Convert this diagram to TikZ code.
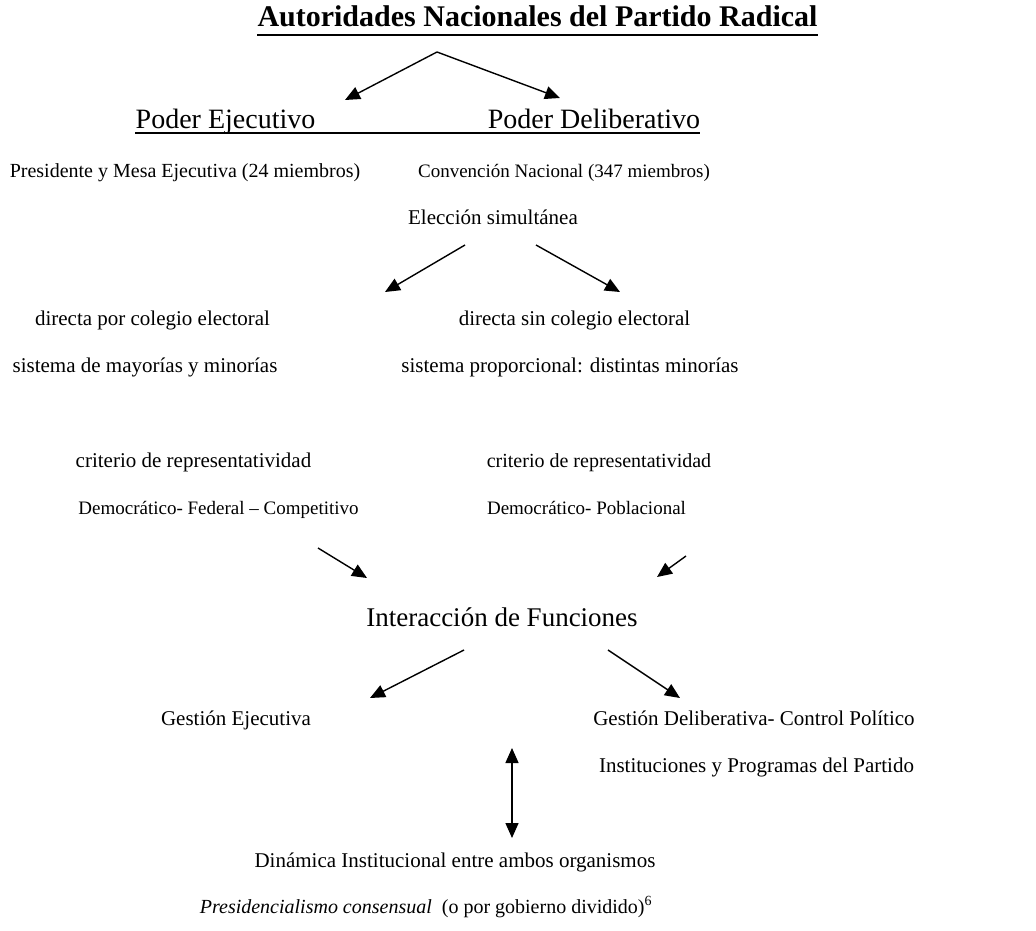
\documentclass[tikz,border=0pt]{standalone}
\usepackage{fontspec}
\setmainfont{Liberation Serif}
\usetikzlibrary{arrows.meta}
\begin{document}
\begin{tikzpicture}[x=1pt,y=-1pt,
  txt/.style={inner sep=0pt,anchor=base,font=\fontsize{21}{25}\selectfont},
  txtn/.style={inner sep=0pt,anchor=base,font=\fontsize{20}{24}\selectfont},
  txts/.style={inner sep=0pt,anchor=base,font=\fontsize{19}{23}\selectfont},
  big/.style={inner sep=0pt,anchor=base,font=\fontsize{27}{31}\selectfont},
  hdr/.style={inner sep=0pt,anchor=base,font=\fontsize{28}{32}\selectfont},
  ttl/.style={inner sep=0pt,anchor=base,font=\fontsize{30}{34}\selectfont\bfseries},
  arr/.style={line width=1.4pt,-{Triangle[length=15pt,width=13pt]}},
  darr/.style={line width=1.4pt,{Triangle[length=15pt,width=13pt]}-{Triangle[length=15pt,width=13pt]}},
  uline/.style={line width=1.3pt}]
\useasboundingbox (0,0) rectangle (1036,931);
\node[ttl] (title) at (537.5,27) {Autoridades Nacionales del Partido Radical};
\draw[uline] ([yshift=-8pt]title.base west) -- ([yshift=-8pt]title.base east);
\node[hdr] (pe) at (225.5,129) {Poder Ejecutivo};
\node[hdr] (pd) at (594,129) {Poder Deliberativo};
\draw[uline] ([yshift=-4pt]pe.base west) -- ([yshift=-4pt]pd.base east);
\node[txtn] (pres) at (185,177) {Presidente y Mesa Ejecutiva (24 miembros)};
\node[txts] (conv) at (564,177) {Convención Nacional (347 miembros)};
\node[txt] (elec) at (493,224) {Elección simultánea};
\node[txt] (dir1) at (152.5,325) {directa por colegio electoral};
\node[txt] (dir2) at (574.5,325) {directa sin colegio electoral};
\node[txt] (sis1) at (145,372) {sistema de mayorías y minorías};
\node[txt] (sis2) at (570,372) {sistema proporcional: distintas minorías};
\node[txt] (crit1) at (193.5,467) {criterio de representatividad};
\node[txtn] (crit2) at (599,467) {criterio de representatividad};
\node[txts] (dem1) at (218.5,514) {Democrático- Federal – Competitivo};
\node[txts] (dem2) at (586.5,514) {Democrático- Poblacional};
\node[big] (inter) at (502,626) {Interacción de Funciones};
\node[txt] (ge) at (236,725) {Gestión Ejecutiva};
\node[txt] (gd) at (754,725) {Gestión Deliberativa- Control Político};
\node[txt] (inst) at (756.5,772) {Instituciones y Programas del Partido};
\node[txt] (din) at (455,867) {Dinámica Institucional entre ambos organismos};
\node[txtn] (pc) at (426,913) {\textit{Presidencialismo consensual}\ \ (o por gobierno dividido)\textsuperscript{6}};
% arrows between the rows
\coordinate (a0) at (437,52);
\coordinate (a1) at (345,100);
\coordinate (a2) at (560,98);
\draw[arr] (a0) -- (a1);
\draw[arr] (a0) -- (a2);
\coordinate (b0) at (465,245); \coordinate (b1) at (385,292);
\coordinate (c0) at (536,245); \coordinate (c1) at (620,292);
\draw[arr] (b0) -- (b1);
\draw[arr] (c0) -- (c1);
\coordinate (d0) at (318,548); \coordinate (d1) at (367,578);
\coordinate (e0) at (686,556); \coordinate (e1) at (657,577);
\draw[arr] (d0) -- (d1);
\draw[arr] (e0) -- (e1);
\coordinate (f0) at (464,650); \coordinate (f1) at (370,698);
\coordinate (g0) at (608,650); \coordinate (g1) at (680,698);
\draw[arr] (f0) -- (f1);
\draw[arr] (g0) -- (g1);
\coordinate (h0) at (512,748); \coordinate (h1) at (512,838);
\draw[darr] (h0) -- (h1);
\end{tikzpicture}
\end{document}
